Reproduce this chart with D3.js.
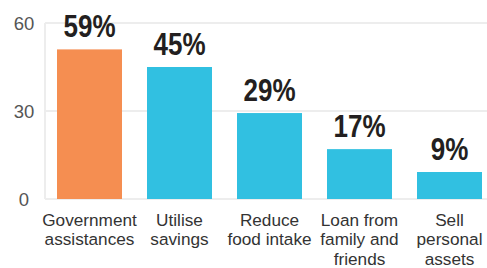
<!DOCTYPE html>
<html><head><meta charset="utf-8">
<script src="https://cdn.jsdelivr.net/npm/d3@7"></script>
<style>
html,body{margin:0;padding:0;background:#fff;}
svg{display:block;}
</style></head>
<body>
<svg id="chart" width="487" height="268"></svg>
<script>
const categories = [
  ["Government","assistances"],
  ["Utilise","savings"],
  ["Reduce","food intake"],
  ["Loan from","family and","friends"],
  ["Sell","personal","assets"]
];
const barValues = [51, 45, 29.3, 17, 9.2];
const valueLabels = ["59%", "45%", "29%", "17%", "9%"];
const barColors = ["#f58e51", "#31c0e1", "#31c0e1", "#31c0e1", "#31c0e1"];
const yTicks = [0, 30, 60];

(function () {
const svg = d3.select("#chart");
const plotLeft = 45, plotTop = 23, plotBottom = 199;

const x = d3.scaleBand()
  .domain(d3.range(categories.length))
  .range([plotLeft, plotLeft + 90 * (5 - 25/90 + 2*12/90)])
  .paddingInner(25/90)
  .paddingOuter(12/90);

const y = d3.scaleLinear().domain([0, 60]).range([plotBottom, plotTop]);

// gridlines
svg.append("g").selectAll("line").data(yTicks).join("line")
  .attr("x1", plotLeft).attr("x2", 487)
  .attr("y1", d => y(d)).attr("y2", d => y(d))
  .attr("stroke", "#ededed").attr("stroke-width", 2);
svg.append("line")
  .attr("x1", plotLeft).attr("x2", plotLeft)
  .attr("y1", y(60)).attr("y2", y(0))
  .attr("stroke", "#ededed").attr("stroke-width", 2);

// y tick labels
svg.append("g").selectAll("text").data(yTicks).join("text")
  .attr("x", 24).attr("y", d => y(d) + 6.5)
  .attr("text-anchor", "middle")
  .attr("font-family", "Liberation Sans, Arial, sans-serif")
  .attr("font-size", 18.5)
  .attr("fill", "#555")
  .text(d => d);

// bars
svg.append("g").selectAll("rect").data(barValues).join("rect")
  .attr("x", (d, i) => x(i))
  .attr("width", x.bandwidth())
  .attr("y", d => y(d))
  .attr("height", d => y(0) - y(d))
  .attr("fill", (d, i) => barColors[i]);

// value labels (condensed bold)
svg.append("g").selectAll("text").data(barValues).join("text")
  .attr("transform", (d, i) => `translate(${x(i) + x.bandwidth() / 2},${y(d) - 12}) scale(0.84,1)`)
  .attr("text-anchor", "middle")
  .attr("font-family", "'Liberation Sans', Arial, sans-serif")
  .attr("font-weight", "bold")
  .attr("font-size", 31)
  .attr("fill", "#231f20")
  .text((d, i) => valueLabels[i]);

// category labels
const cat = svg.append("g").selectAll("text").data(categories).join("text")
  .attr("x", (d, i) => x(i) + x.bandwidth() / 2)
  .attr("y", 225.5)
  .attr("text-anchor", "middle")
  .attr("font-family", "Liberation Sans, Arial, sans-serif")
  .attr("font-size", 17.2)
  .attr("fill", "#333");
cat.selectAll("tspan").data(d => d).join("tspan")
  .attr("x", function() { return d3.select(this.parentNode).attr("x"); })
  .attr("dy", (d, i) => i === 0 ? 0 : 19.5)
  .text(d => d);
})();
</script>
</body></html>
